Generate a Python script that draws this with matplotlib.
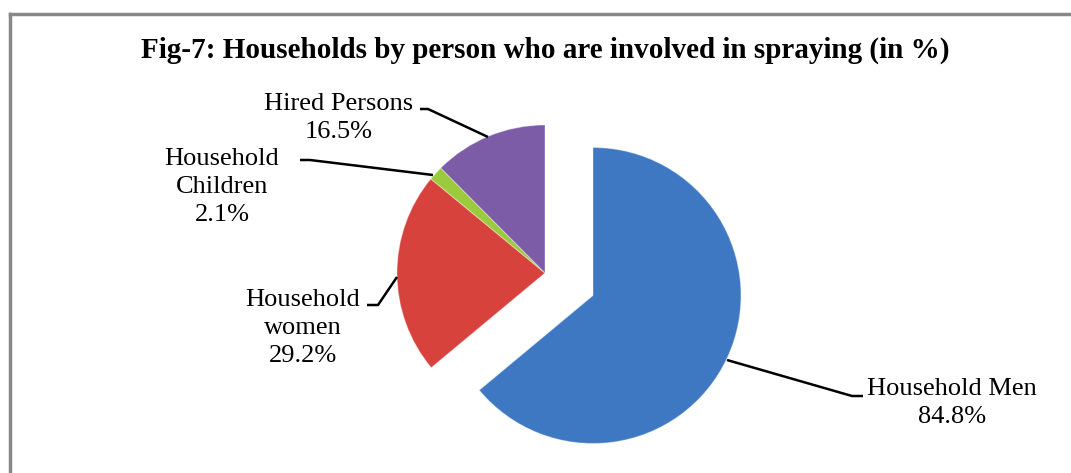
import numpy as np
import matplotlib.pyplot as plt
from matplotlib.lines import Line2D

plt.rcParams['font.family'] = ['Liberation Serif', 'DejaVu Serif']

# data
labels = ["Household Men", "Household\nwomen", "Household\nChildren", "Hired Persons"]
values = [84.8, 29.2, 2.1, 16.5]
colors = ['#3F78C2', '#D8423D', '#9BCB3C', '#7D5CA7']
title = "Fig-7: Households by person who are involved in spraying (in %)"

W, H = 1071, 473
fig = plt.figure(figsize=(W / 100, H / 100), dpi=100)
ax = fig.add_axes([0, 0, 1, 1])

# pie in pixel-like units (y flipped)
cx, cy, R = 545, H - 273, 148
wedges, _ = ax.pie(values, colors=colors, startangle=90, counterclock=False,
                   center=(cx, cy), radius=R, explode=[53, 0, 0, 0],
                   wedgeprops=dict(linewidth=0.8, edgecolor='#ffffff55'),
                   frame=True)
ax.set_xlim(0, W)
ax.set_ylim(0, H)
ax.axis('off')

# label text centres and leader lines (image coords)
text_pos = [(952, 403), (303, 328), (222, 187), (339, 118)]
leaders = [
    [(863, 396), (852, 396), (727, 360)],
    [(367, 305), (378, 305), (397, 277)],
    [(300, 160), (310, 160), (433, 175)],
    [(420, 109), (428, 109), (488, 137)],
]
for lab, v, (tx, ty), pts in zip(labels, values, text_pos, leaders):
    ax.text(tx, H - ty, f"{lab}\n{v:.1f}%", ha='center', va='center',
            fontsize=19, linespacing=1.38, color='black')
    xs = [p[0] for p in pts]
    ys = [H - p[1] for p in pts]
    ax.plot(xs, ys, color='black', lw=1.8, solid_capstyle='butt')

ax.text(545, H - 50, title, ha='center', va='center', fontsize=21,
        fontweight='bold')

# outer border (top and left visible)
fig.add_artist(Line2D([10 / W, 1], [1 - 14 / H, 1 - 14 / H], color='#888888', lw=2.5,
                      transform=fig.transFigure))
fig.add_artist(Line2D([10 / W, 10 / W], [0, 1 - 14 / H], color='#888888', lw=2.5,
                      transform=fig.transFigure))

fig.savefig('out.png', dpi=100)
